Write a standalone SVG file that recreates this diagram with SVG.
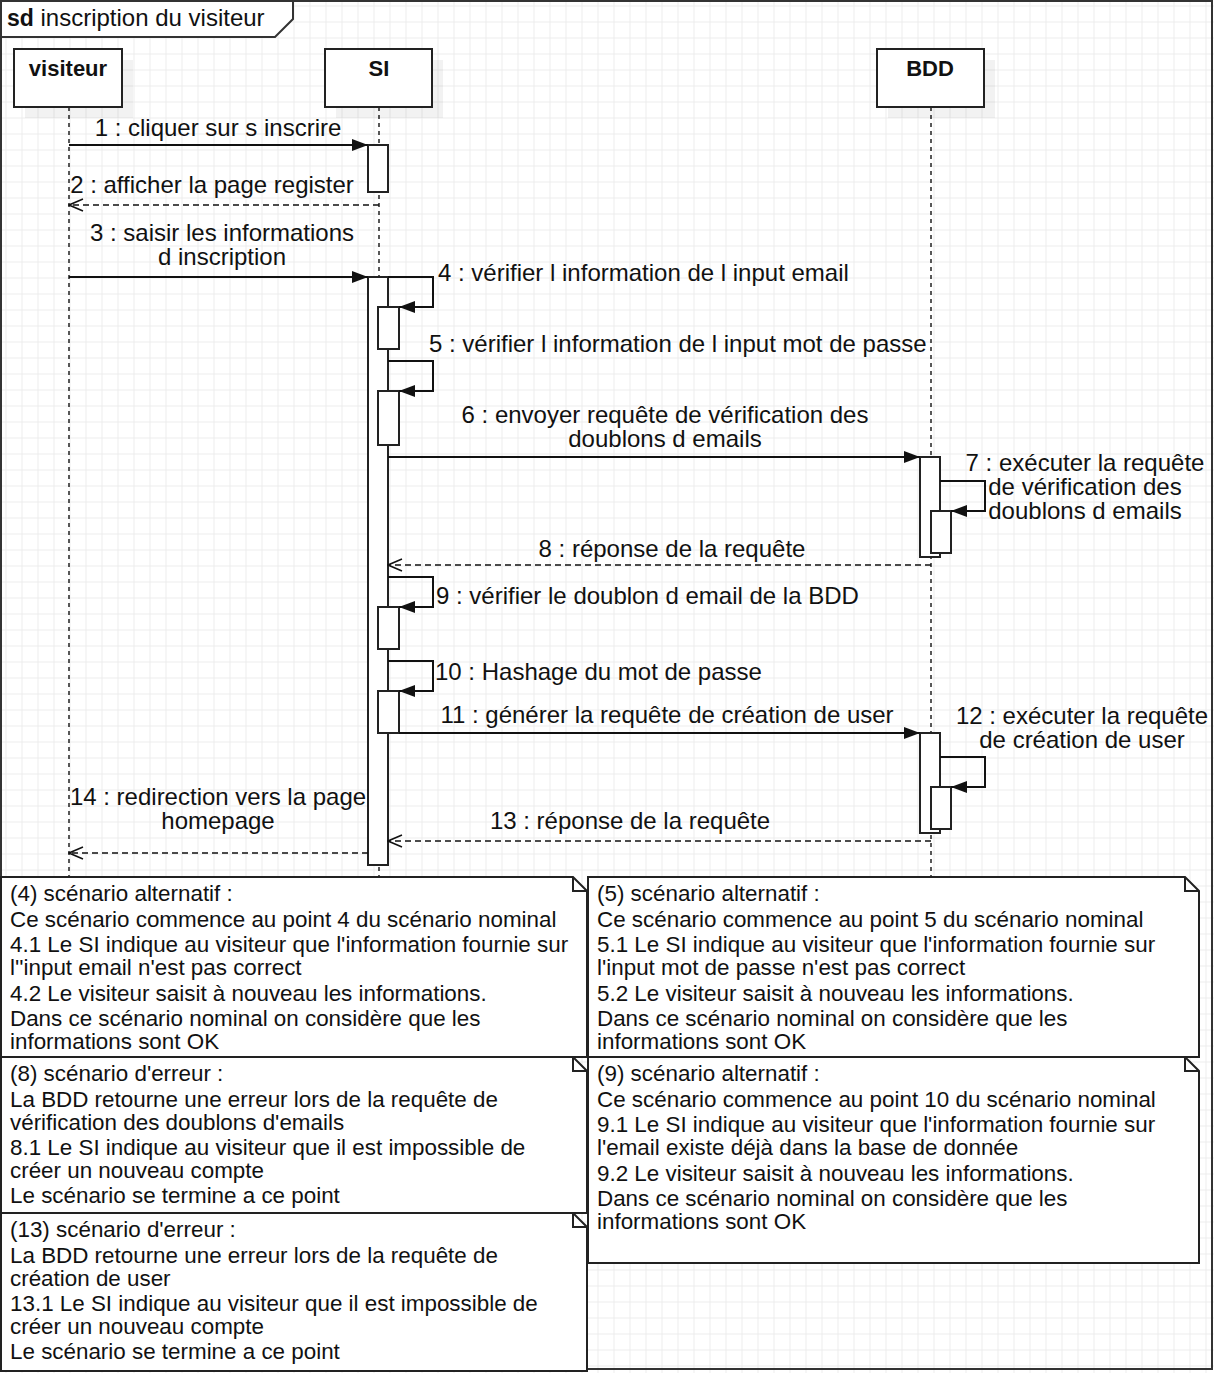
<svg xmlns="http://www.w3.org/2000/svg" width="1214" height="1373" viewBox="0 0 1214 1373">
<defs>
<pattern id="grid" x="5.5" y="5.5" width="16" height="16" patternUnits="userSpaceOnUse">
<path d="M0,0.5 H16 M0.5,0 V16" fill="none" stroke="#ececec" stroke-width="1"/>
</pattern>
<marker id="block" viewBox="0 0 16 12" refX="16" refY="6" markerWidth="16" markerHeight="12" markerUnits="userSpaceOnUse" orient="auto">
<path d="M0,0 L16,6 L0,12 Z" fill="#111"/>
</marker>
<marker id="open" viewBox="0 0 16 14" refX="15" refY="7" markerWidth="16" markerHeight="14" markerUnits="userSpaceOnUse" orient="auto">
<path d="M1,1 L15,7 L1,13" fill="none" stroke="#111" stroke-width="1.5"/>
</marker>
</defs>
<style>
text{font-family:"Liberation Sans",Arial,sans-serif;fill:#111}
.msg{font-size:24px}
.ttl{font-size:24px}
.pl{font-size:22px;font-weight:bold}
.note{font-size:22.4px}
.box{fill:#fff;stroke:#222;stroke-width:2}
.shadow{fill:#000;fill-opacity:0.05}
.life{fill:none;stroke:#222;stroke-width:1.5;stroke-dasharray:4 4}
.call{fill:none;stroke:#111;stroke-width:2}
.ret{fill:none;stroke:#111;stroke-width:1.5;stroke-dasharray:6 4}
.act{fill:#fff;stroke:#222;stroke-width:2}
.nb{fill:#fff;stroke:#222;stroke-width:2}
.fold{fill:none;stroke:#222;stroke-width:2}
</style>
<rect x="0" y="0" width="1214" height="1373" fill="#fff"/>
<rect x="0" y="0" width="1214" height="1373" fill="url(#grid)"/>

<g id="frame">
<rect x="1" y="1" width="1211" height="1368" fill="none" stroke="#333" stroke-width="2"/>
<path d="M1,1 H293 V19 L275,37 H1 Z" fill="#fff" stroke="#333" stroke-width="2"/>
<text class="ttl" x="7" y="26"><tspan font-weight="bold" font-size="23">sd</tspan> inscription du visiteur</text>
</g>

<g id="lifelines">
<line class="life" x1="69" y1="107" x2="69" y2="877"/>
<line class="life" x1="379" y1="107" x2="379" y2="877"/>
<line class="life" x1="931" y1="107" x2="931" y2="877"/>
</g>

<g id="visiteur">
<rect class="shadow" x="25" y="60" width="108" height="58"/>
<rect class="box" x="14" y="49" width="108" height="58"/>
<text class="pl" x="68" y="76" text-anchor="middle">visiteur</text>
</g>
<g id="SI">
<rect class="shadow" x="336" y="60" width="107" height="58"/>
<rect class="box" x="325" y="49" width="107" height="58"/>
<text class="pl" x="379" y="76" text-anchor="middle">SI</text>
</g>
<g id="BDD">
<rect class="shadow" x="888" y="60" width="107" height="58"/>
<rect class="box" x="877" y="49" width="107" height="58"/>
<text class="pl" x="930" y="76" text-anchor="middle">BDD</text>
</g>

<g id="activations">
<rect class="act" x="368" y="145" width="20" height="47"/>
<rect class="act" x="368" y="277" width="20" height="588"/>
<rect class="act" x="378" y="307" width="21" height="42"/>
<rect class="act" x="378" y="391" width="21" height="54"/>
<rect class="act" x="378" y="607" width="21" height="42"/>
<rect class="act" x="378" y="691" width="21" height="42"/>
<rect class="act" x="920" y="457" width="20" height="100"/>
<rect class="act" x="931" y="511" width="20" height="42"/>
<rect class="act" x="920" y="733" width="20" height="100"/>
<rect class="act" x="931" y="787" width="20" height="42"/>
</g>

<g id="connectors">
<path class="call" d="M69,145 H368" marker-end="url(#block)"/>
<path class="ret" d="M379,205 H69" marker-end="url(#open)"/>
<path class="call" d="M69,277 H368" marker-end="url(#block)"/>
<path class="call" d="M388,277 H433 V307 H399" marker-end="url(#block)"/>
<path class="call" d="M388,361 H433 V391 H399" marker-end="url(#block)"/>
<path class="call" d="M388,457 H920" marker-end="url(#block)"/>
<path class="call" d="M940,481 H985 V511 H951" marker-end="url(#block)"/>
<path class="ret" d="M931,565 H388" marker-end="url(#open)"/>
<path class="call" d="M388,577 H433 V607 H399" marker-end="url(#block)"/>
<path class="call" d="M388,661 H433 V691 H399" marker-end="url(#block)"/>
<path class="call" d="M399,733 H920" marker-end="url(#block)"/>
<path class="call" d="M940,757 H985 V787 H951" marker-end="url(#block)"/>
<path class="ret" d="M931,841 H388" marker-end="url(#open)"/>
<path class="ret" d="M368,853 H69" marker-end="url(#open)"/>
</g>

<g id="labels">
<text class="msg" x="218" y="136" text-anchor="middle">1 : cliquer sur s inscrire</text>
<text class="msg" x="212" y="193" text-anchor="middle">2 : afficher la page register</text>
<text class="msg" x="222" y="241" text-anchor="middle">3 : saisir les informations</text>
<text class="msg" x="222" y="265" text-anchor="middle">d inscription</text>
<text class="msg" x="438" y="281">4 : vérifier l information de l input email</text>
<text class="msg" x="429" y="352">5 : vérifier l information de l input mot de passe</text>
<text class="msg" x="665" y="423" text-anchor="middle">6 : envoyer requête de vérification des</text>
<text class="msg" x="665" y="447" text-anchor="middle">doublons d emails</text>
<text class="msg" x="1085" y="471" text-anchor="middle">7 : exécuter la requête</text>
<text class="msg" x="1085" y="495" text-anchor="middle">de vérification des</text>
<text class="msg" x="1085" y="519" text-anchor="middle">doublons d emails</text>
<text class="msg" x="672" y="557" text-anchor="middle">8 : réponse de la requête</text>
<text class="msg" x="436" y="604">9 : vérifier le doublon d email de la BDD</text>
<text class="msg" x="435" y="680">10 : Hashage du mot de passe</text>
<text class="msg" x="667" y="723" text-anchor="middle">11 : générer la requête de création de user</text>
<text class="msg" x="1082" y="724" text-anchor="middle">12 : exécuter la requête</text>
<text class="msg" x="1082" y="748" text-anchor="middle">de création de user</text>
<text class="msg" x="630" y="829" text-anchor="middle">13 : réponse de la requête</text>
<text class="msg" x="218" y="805" text-anchor="middle">14 : redirection vers la page</text>
<text class="msg" x="218" y="829" text-anchor="middle">homepage</text>
</g>

<g id="note4">
<path class="nb" d="M1,877 H573 L587,891 V1057 H1 Z"/>
<path class="fold" d="M573,877 V891 H587"/>
<text class="note"><tspan x="10" y="901">(4) scénario alternatif :</tspan><tspan x="10" y="926.5">Ce scénario commence au point 4 du scénario nominal</tspan><tspan x="10" y="952">4.1 Le SI indique au visiteur que l'information fournie sur</tspan><tspan x="10" y="975">l''input email n'est pas correct</tspan><tspan x="10" y="1000.5">4.2 Le visiteur saisit à nouveau les informations.</tspan><tspan x="10" y="1026">Dans ce scénario nominal on considère que les</tspan><tspan x="10" y="1049">informations sont OK</tspan></text>
</g>
<g id="note5">
<path class="nb" d="M588,877 H1185 L1199,891 V1057 H588 Z"/>
<path class="fold" d="M1185,877 V891 H1199"/>
<text class="note"><tspan x="597" y="901">(5) scénario alternatif :</tspan><tspan x="597" y="926.5">Ce scénario commence au point 5 du scénario nominal</tspan><tspan x="597" y="952">5.1 Le SI indique au visiteur que l'information fournie sur</tspan><tspan x="597" y="975">l'input mot de passe n'est pas correct</tspan><tspan x="597" y="1000.5">5.2 Le visiteur saisit à nouveau les informations.</tspan><tspan x="597" y="1026">Dans ce scénario nominal on considère que les</tspan><tspan x="597" y="1049">informations sont OK</tspan></text>
</g>
<g id="note8">
<path class="nb" d="M1,1057 H573 L587,1071 V1213 H1 Z"/>
<path class="fold" d="M573,1057 V1071 H587"/>
<text class="note"><tspan x="10" y="1081">(8) scénario d'erreur :</tspan><tspan x="10" y="1106.5">La BDD retourne une erreur lors de la requête de</tspan><tspan x="10" y="1129.5">vérification des doublons d'emails</tspan><tspan x="10" y="1155">8.1 Le SI indique au visiteur que il est impossible de</tspan><tspan x="10" y="1178">créer un nouveau compte</tspan><tspan x="10" y="1203">Le scénario se termine a ce point</tspan></text>
</g>
<g id="note9">
<path class="nb" d="M588,1057 H1185 L1199,1071 V1263 H588 Z"/>
<path class="fold" d="M1185,1057 V1071 H1199"/>
<text class="note"><tspan x="597" y="1081">(9) scénario alternatif :</tspan><tspan x="597" y="1106.5">Ce scénario commence au point 10 du scénario nominal</tspan><tspan x="597" y="1132">9.1 Le SI indique au visiteur que l'information fournie sur</tspan><tspan x="597" y="1155">l'email existe déjà dans la base de donnée</tspan><tspan x="597" y="1180.5">9.2 Le visiteur saisit à nouveau les informations.</tspan><tspan x="597" y="1206">Dans ce scénario nominal on considère que les</tspan><tspan x="597" y="1229">informations sont OK</tspan></text>
</g>
<g id="note13">
<path class="nb" d="M1,1213 H573 L587,1227 V1371 H1 Z"/>
<path class="fold" d="M573,1213 V1227 H587"/>
<text class="note"><tspan x="10" y="1237">(13) scénario d'erreur :</tspan><tspan x="10" y="1262.5">La BDD retourne une erreur lors de la requête de</tspan><tspan x="10" y="1285.5">création de user</tspan><tspan x="10" y="1311">13.1 Le SI indique au visiteur que il est impossible de</tspan><tspan x="10" y="1334">créer un nouveau compte</tspan><tspan x="10" y="1359">Le scénario se termine a ce point</tspan></text>
</g>
</svg>
